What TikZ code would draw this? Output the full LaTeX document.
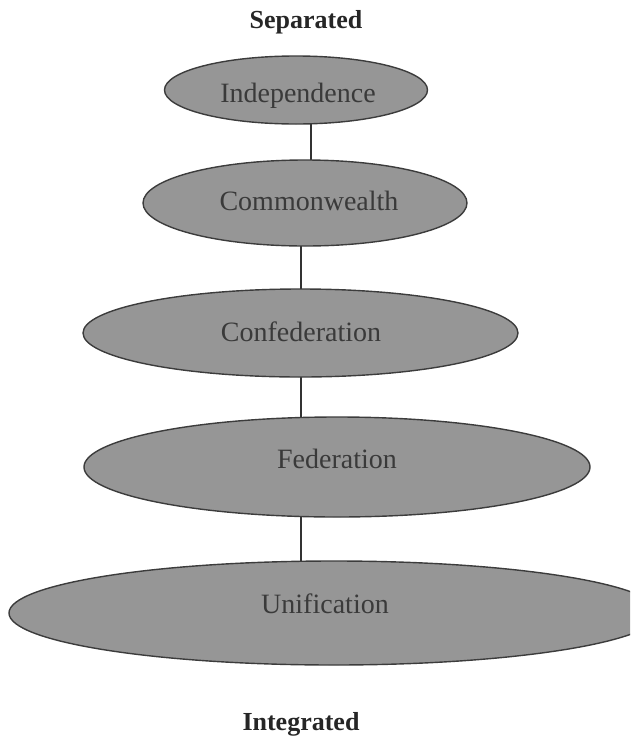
\documentclass[tikz,border=0pt]{standalone}
\usepackage{fontspec}
\setmainfont{Liberation Serif}
\usetikzlibrary{shapes.geometric,backgrounds}
\definecolor{stagefill}{RGB}{150,150,150}
\definecolor{stageedge}{RGB}{60,60,60}
\definecolor{stagetext}{RGB}{58,58,58}
\definecolor{linkcol}{RGB}{50,50,50}
\begin{document}
\begin{tikzpicture}[x=1pt,y=-1pt,
  stage/.style={ellipse,draw=stageedge,line width=1.4pt,fill=stagefill,inner sep=0pt},
  stagename/.style={text=stagetext,inner sep=0pt,font=\fontsize{28}{32}\selectfont},
  pole/.style={font=\bfseries\fontsize{26}{30}\selectfont,text=black!85},
  link/.style={draw=linkcol,line width=1.3pt}]
  \path[use as bounding box] (0,0) rectangle (630,742);
  \clip (0,0) rectangle (630,742);

  % end labels of the scale
  \node[pole] (sep) at (306,22) {Separated};
  \node[pole] (int) at (301,724) {Integrated};

  % the five forms, from separated to integrated
  \node[stage,minimum width=263pt,minimum height=68pt] (indep) at (296,90) {};
  \node[stage,minimum width=324pt,minimum height=86pt] (common) at (305,203) {};
  \node[stage,minimum width=435pt,minimum height=88pt] (confed) at (300.5,333) {};
  \node[stage,minimum width=506pt,minimum height=100pt] (fed) at (337,467) {};
  \node[stage,minimum width=650pt,minimum height=104pt] (unif) at (334,613) {};

  % names of the forms
  \node[stagename] (indep-t) at (298,96) {Independence};
  \node[stagename] (common-t) at (309,201) {Commonwealth};
  \node[stagename] (confed-t) at (301,332) {Confederation};
  \node[stagename] (fed-t) at (337,459) {Federation};
  \node[stagename] (unif-t) at (325,604) {Unification};

  % vertical links between neighbouring forms
  \coordinate (xa) at (311,0);
  \coordinate (xb) at (301,0);
  \begin{pgfonlayer}{background}
    \path[link] (indep -| xa) -- (common -| xa);
    \path[link] (common -| xb) -- (confed -| xb);
    \path[link] (confed -| xb) -- (fed -| xb);
    \path[link] (fed -| xb) -- (unif -| xb);
  \end{pgfonlayer}
\end{tikzpicture}
\end{document}
